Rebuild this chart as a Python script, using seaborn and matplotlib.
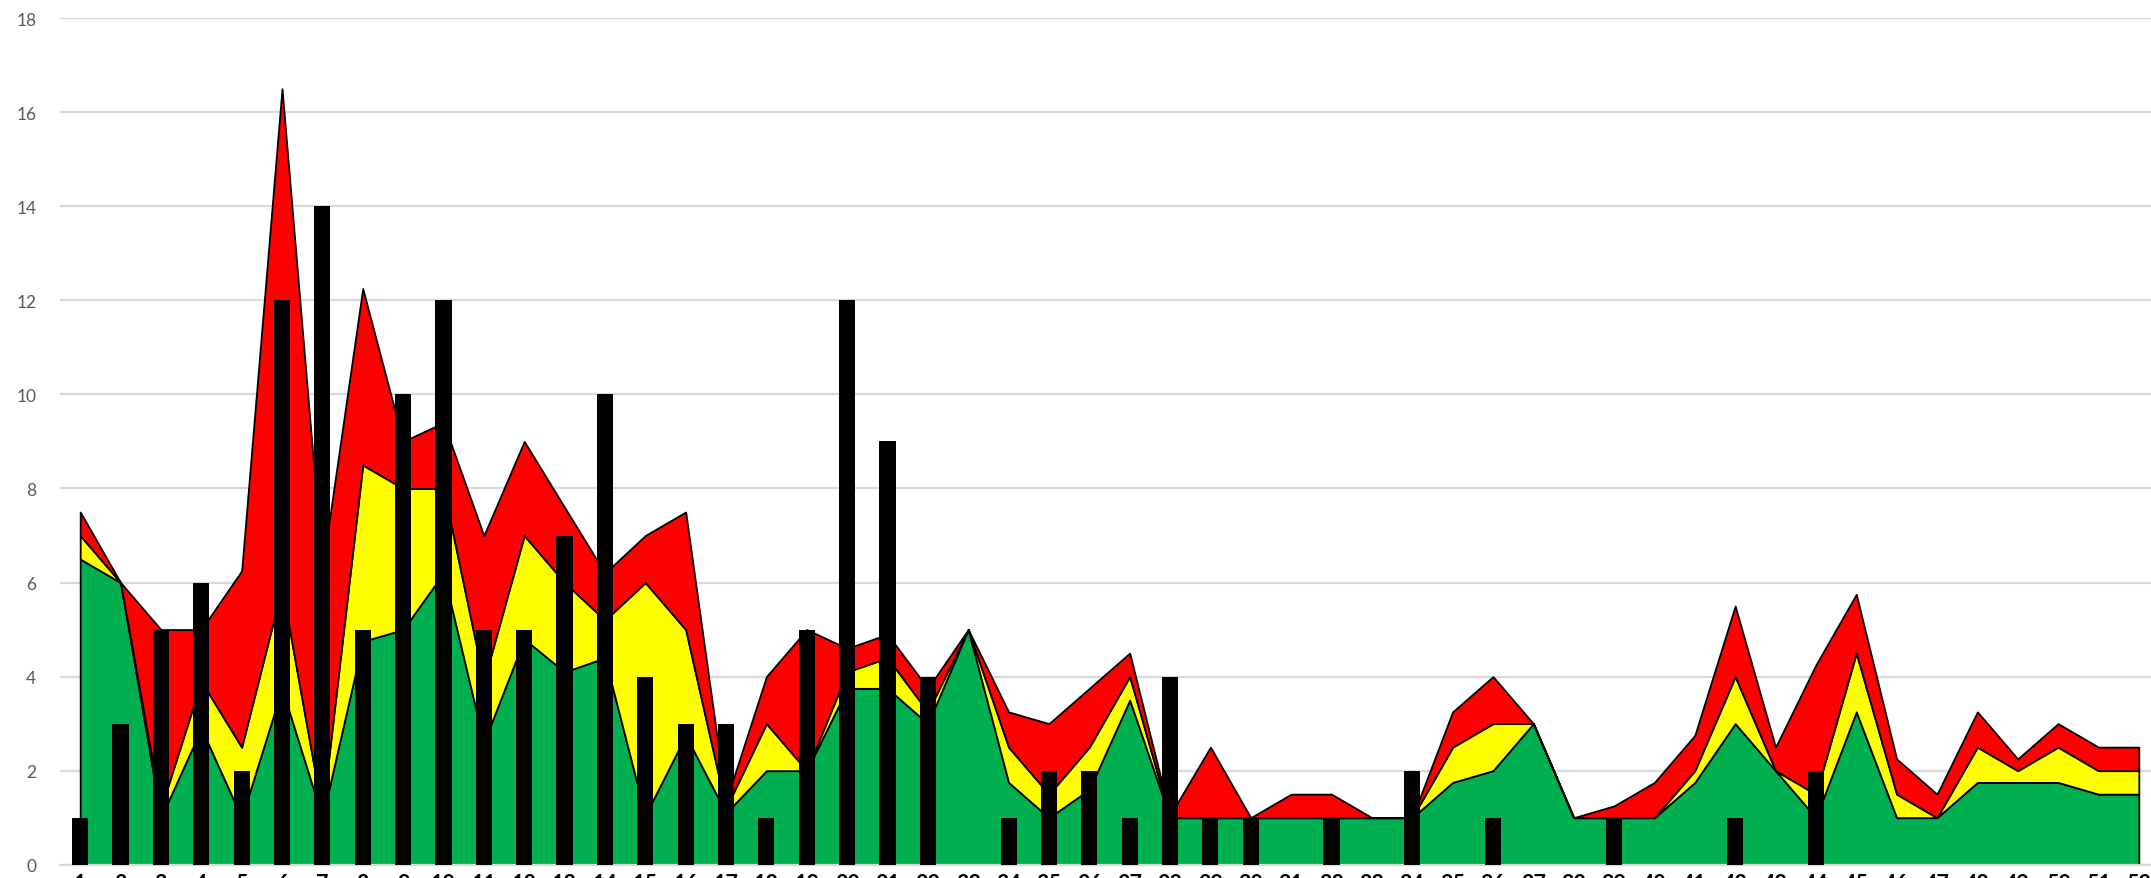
import numpy as np
import pandas as pd
import seaborn as sns
import matplotlib.pyplot as plt

# week numbers
weeks = [str(i) for i in range(1, 53)]

# stacked layers (amount per layer)
green = [6.5, 6, 1, 2.9, 1, 3.75, 1, 4.75, 5, 6.2,
         2.6, 4.8, 4.1, 4.4, 1.05, 2.75, 1.1, 2, 2, 3.75,
         3.75, 3, 5, 1.75, 1, 1.6, 3.5, 1, 1, 1,
         1, 1, 1, 1, 1.75, 2, 3, 1, 1, 1,
         1.75, 3, 2, 1, 3.25, 1, 1, 1.75, 1.75, 1.75,
         1.5, 1.5]
yellow = [0.5, 0, 0.2, 1.0, 1.5, 2.15, 0.1, 3.75, 3, 1.8,
          1.3, 2.2, 1.9, 0.8, 4.95, 2.25, 0.1, 1, 0, 0.35,
          0.65, 0.25, 0, 0.75, 0.5, 0.9, 0.5, 0, 0, 0,
          0, 0, 0, 0, 0.75, 1, 0, 0, 0, 0,
          0.25, 1, 0, 0.5, 1.25, 0.5, 0, 0.75, 0.25, 0.75,
          0.5, 0.5]
red = [0.5, 0, 3.8, 1.1, 3.75, 10.6, 5.2, 3.75, 1, 1.4,
       3.1, 2, 1.6, 1.0, 1, 2.5, 0.15, 1, 3, 0.5,
       0.5, 0.5, 0, 0.75, 1.5, 1.25, 0.5, 0.05, 1.5, 0,
       0.5, 0.5, 0, 0, 0.75, 1, 0, 0, 0.25, 0.75,
       0.75, 1.5, 0.5, 2.75, 1.25, 0.75, 0.5, 0.75, 0.25, 0.5,
       0.5, 0.5]

# black bars
counts = [1, 3, 5, 6, 2, 12, 14, 5, 10, 12,
          5, 5, 7, 10, 4, 3, 3, 1, 5, 12,
          9, 4, 0, 1, 2, 2, 1, 4, 1, 1,
          0, 1, 0, 2, 0, 1, 0, 0, 1, 0,
          0, 1, 0, 2, 0, 0, 0, 0, 0, 0,
          0, 0]

df = pd.DataFrame({'week': weeks, 'count': counts})

sns.set_theme(style='white')
plt.rcParams['font.family'] = ['Lato', 'DejaVu Sans']

W, H = 2151, 879
fig = plt.figure(figsize=(W / 100, H / 100), dpi=100)
left, right_px = 60, 2159
bottom_px, top_px = 865.7, 19.2
ax = fig.add_axes([left / W, (H - bottom_px) / H, (right_px - left) / W, (bottom_px - top_px) / H])

x = np.arange(len(weeks))
ax.stackplot(x, green, yellow, red, colors=['#00B050', '#FFFF00', '#FF0000'],
             edgecolor='black', linewidth=1.3, zorder=2)

sns.barplot(data=df, x='week', y='count', color='black', saturation=1,
            width=0.4, ax=ax, zorder=3, linewidth=0, edgecolor='black')

ax.set_xlim(-0.5, len(weeks) - 0.5)
ax.set_ylim(0, 18)
ax.set_yticks(range(0, 19, 2))
ax.yaxis.grid(True, color='#d9d9d9', linewidth=1.6)
ax.set_axisbelow(True)
ax.set_xlabel('')
ax.set_ylabel('')

for s in ['left', 'right', 'top']:
    ax.spines[s].set_visible(False)
ax.spines['bottom'].set_color('#d9d9d9')
ax.spines['bottom'].set_linewidth(1.6)

ax.tick_params(axis='y', length=0, pad=17, labelsize=12.5, labelcolor='#595959')
ax.tick_params(axis='x', which='major', length=0, pad=6, labelsize=15.5, labelcolor='black')
for lbl in ax.get_xticklabels():
    lbl.set_fontweight('bold')
ax.set_xticks(np.arange(len(weeks) + 1) - 0.5, minor=True)
ax.tick_params(axis='x', which='minor', length=12, width=1.6, color='#d9d9d9', direction='out')

fig.savefig('out.png', dpi=100)
